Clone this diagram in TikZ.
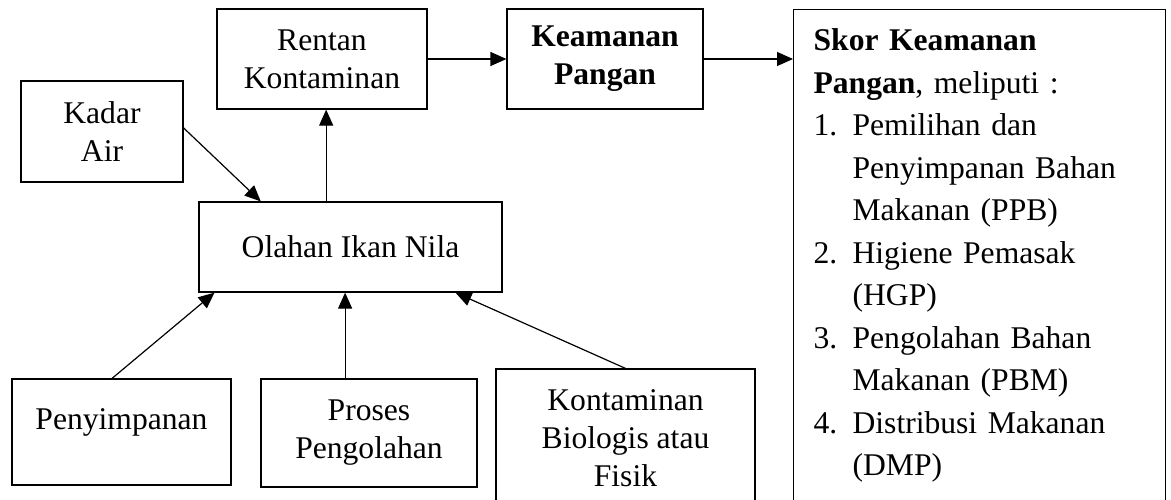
\documentclass[tikz,border=0pt]{standalone}
\usepackage{fontspec}
\setmainfont{Liberation Serif}
\usetikzlibrary{arrows.meta,calc}

\begin{document}
\begin{tikzpicture}[x=0.5pt,y=-0.5pt,
    box/.style={draw, line width=0.6pt, align=center, inner sep=0pt, font=\fontsize{15.8}{19}\selectfont},
    arr/.style={-{Triangle[length=8pt,width=7pt]}, line width=0.6pt}]
    \useasboundingbox (0,0) rectangle (1171,499);

    % Define nodes
    \node[box, minimum width=105pt, minimum height=50pt] (rentan) at (322,59) {Rentan\\Kontaminan};
    \node[box, minimum width=98pt, minimum height=50pt, font=\fontsize{15.8}{19}\selectfont\bfseries] (keamanan) at (605,59) {Keamanan\\Pangan};
    \node[box, minimum width=81pt, minimum height=50.5pt] (kadar) at (102,131.5) {Kadar\\Air};
    \node[box, minimum width=151.5pt, minimum height=45pt] (olahan) at (350.5,247) {Olahan Ikan Nila};
    \node[box, minimum width=109.5pt, minimum height=53pt, text depth=13pt] (penyimpanan) at (121.5,432) {Penyimpanan};
    \node[box, minimum width=108pt, minimum height=54pt] (proses) at (369,433) {Proses\\Pengolahan};
    \node[box, minimum width=129.5pt, minimum height=69.5pt] (kontaminan) at (625.5,438.5) {Kontaminan\\Biologis atau\\Fisik};
    \node[box, align=left, text width=166pt, inner xsep=10pt, inner ysep=9.7pt, text depth=230pt, anchor=north west,
        font=\fontsize{15.8}{21.25}\selectfont] (skor) at (793,9)
        {\textbf{Skor Keamanan}\\
         \textbf{Pangan}, meliputi :\\
         \makebox[19.5pt][l]{1.}Pemilihan dan\\
         \hspace*{19.5pt}Penyimpanan Bahan\\
         \hspace*{19.5pt}Makanan (PPB)\\
         \makebox[19.5pt][l]{2.}Higiene Pemasak\\
         \hspace*{19.5pt}(HGP)\\
         \makebox[19.5pt][l]{3.}Pengolahan Bahan\\
         \hspace*{19.5pt}Makanan (PBM)\\
         \makebox[19.5pt][l]{4.}Distribusi Makanan\\
         \hspace*{19.5pt}(DMP)};

    % Arrow start points
    \coordinate (olahanTop) at ($(olahan.north west)!0.42!(olahan.north east)$);
    \coordinate (prosesTop) at ($(proses.north west)!0.39!(proses.north east)$);

    % Draw edges
    \draw[arr] (rentan.east) -- (keamanan.west);
    \draw[arr] (keamanan.east) -- (keamanan.east -| skor.west);
    \draw[arr] (olahanTop) -- (olahanTop |- rentan.south);
    \draw[arr] ($(kadar.north east)!0.465!(kadar.south east)$) -- ($(olahan.north west)!0.205!(olahan.north east)$);
    \draw[arr] ($(penyimpanan.north west)!0.457!(penyimpanan.north east)$) -- ($(olahan.south west)!0.053!(olahan.south east)$);
    \draw[arr] (prosesTop) -- (prosesTop |- olahan.south);
    \draw[arr] (kontaminan.north) -- ($(olahan.south west)!0.845!(olahan.south east)$);
\end{tikzpicture}
\end{document}
